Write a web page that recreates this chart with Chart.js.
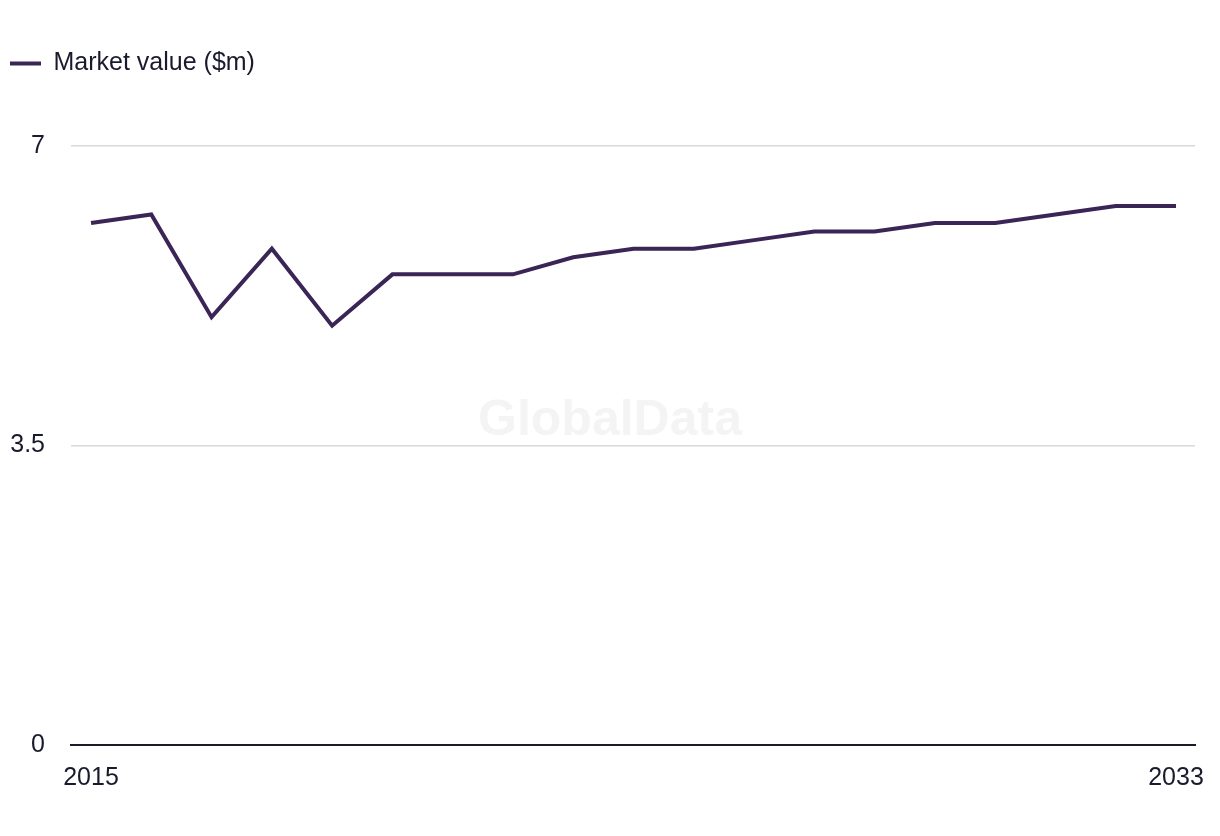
<!DOCTYPE html>
<html>
<head>
<meta charset="utf-8">
<script src="https://cdn.jsdelivr.net/npm/chart.js@4.4.1/dist/chart.umd.min.js"></script>
<style>
    html, body { margin: 0; padding: 0; background: #fff; }
    #wrap { position: relative; width: 1220px; height: 836px; }
    #watermark {
        position: absolute; left: 0; width: 1220px; top: 393px; text-align: center;
        font-family: 'Liberation Sans', Arial, sans-serif; font-weight: bold; font-size: 50px;
        line-height: 50px; color: #f4f4f4;
    }
    canvas { position: absolute; left: 0; top: 0; }
</style>
</head>
<body>
<div id="wrap">
    <div id="watermark">GlobalData</div>
    <canvas id="chart" width="1220" height="836"></canvas>
</div>
<script>
const years = [2015, 2016, 2017, 2018, 2019, 2020, 2021, 2022, 2023, 2024, 2025, 2026, 2027, 2028, 2029, 2030, 2031, 2032, 2033];
const marketValue = [6.1, 6.2, 5.0, 5.8, 4.9, 5.5, 5.5, 5.5, 5.7, 5.8, 5.8, 5.9, 6.0, 6.0, 6.1, 6.1, 6.2, 6.3, 6.3];
const xTickYears = [2015, 2033];
const yTicks = [0, 3.5, 7];

const lineColor = '#3a2556';
const textColor = '#1a1a2e';
const fontFamily = "'Liberation Sans', Arial, sans-serif";

// push the plot down below the legend
const legendSpacer = {
    id: 'legendSpacer',
    beforeInit(chart) {
        const fit = chart.legend.fit;
        chart.legend.fit = function () {
            fit.call(this);
            this.height += 60;
        };
    }
};

new Chart(document.getElementById('chart').getContext('2d'), {
    type: 'line',
    data: {
        datasets: [{
            label: 'Market value ($m)',
            data: years.map((y, i) => ({ x: y, y: marketValue[i] })),
            borderColor: lineColor,
            backgroundColor: lineColor,
            borderWidth: 4,
            pointRadius: 0,
            tension: 0
        }]
    },
    options: {
        responsive: false,
        animation: false,
        layout: { padding: { top: 41, right: 25, bottom: 25, left: 0 } },
        plugins: {
            legend: {
                position: 'top',
                align: 'start',
                labels: {
                    boxWidth: 31,
                    boxHeight: 4,
                    color: textColor,
                    font: { family: fontFamily, size: 25 },
                    padding: 10,
                    generateLabels: chart => Chart.defaults.plugins.legend.labels.generateLabels(chart)
                        .map(item => ({ ...item, lineWidth: 0 }))
                }
            },
            tooltip: { enabled: false }
        },
        scales: {
            x: {
                type: 'linear',
                min: 2014.668,
                max: 2033.315,
                afterBuildTicks: axis => { axis.ticks = xTickYears.map(v => ({ value: v })); },
                afterFit: axis => { axis.paddingLeft = 0; axis.paddingRight = 0; },
                ticks: {
                    callback: v => String(v),
                    color: textColor,
                    font: { family: fontFamily, size: 25 },
                    padding: 18,
                    maxRotation: 0
                },
                grid: { display: false, drawTicks: false },
                border: { display: true, color: textColor, width: 2 }
            },
            y: {
                min: 0,
                max: 7,
                afterBuildTicks: axis => { axis.ticks = yTicks.map(v => ({ value: v })); },
                afterFit: axis => { axis.width = 71; },
                ticks: {
                    color: textColor,
                    font: { family: fontFamily, size: 25 },
                    padding: 26
                },
                grid: { color: '#d9d9d9', lineWidth: 1.5, drawTicks: false },
                border: { display: false }
            }
        }
    },
    plugins: [legendSpacer]
});
</script>
</body>
</html>
